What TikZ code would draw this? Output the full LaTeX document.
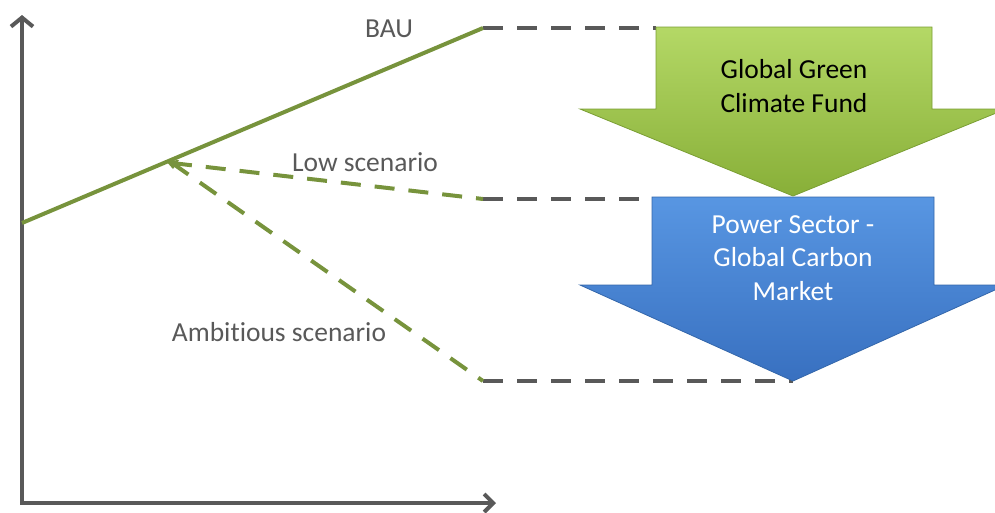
\documentclass[tikz,border=0pt]{standalone}
\usepackage{fontspec}
\setmainfont[Ligatures={NoCommon,NoRequired,NoContextual}]{Carlito}
\usetikzlibrary{arrows.meta}
\definecolor{axisgray}{HTML}{595959}
\definecolor{olive}{HTML}{77933C}
\definecolor{greenTop}{HTML}{B4D866}
\definecolor{greenBot}{HTML}{88AF38}
\definecolor{greenEdge}{HTML}{7A9E33}
\definecolor{blueTop}{HTML}{5896E2}
\definecolor{blueBot}{HTML}{3870C0}
\definecolor{blueEdge}{HTML}{3366AA}
\tikzset{
  axisline/.style={draw=axisgray, line width=4pt, line join=miter},
  bauline/.style={draw=olive, line width=4pt},
  scenline/.style={draw=olive, line width=4pt, dash pattern=on 20pt off 14pt},
  guide/.style={draw=axisgray, line width=4pt, dash pattern=on 20pt off 14pt},
  lbl/.style={text=axisgray, font=\fontsize{27.5}{33.5}\selectfont, inner sep=0pt},
  boxtext/.style={font=\fontsize{27.5}{33.5}\selectfont, align=center, inner sep=0pt},
  greenarrow/.style={top color=greenTop, bottom color=greenBot, draw=greenEdge, line width=0.8pt, line join=miter},
  bluearrow/.style={top color=blueTop, bottom color=blueBot, draw=blueEdge, line width=0.8pt, line join=miter}
}
\begin{document}
\begin{tikzpicture}[x=1pt,y=-1pt]
\useasboundingbox (0,0) rectangle (995,512);
\clip (0,0) rectangle (995,512);
% coordinates
\coordinate (ytop) at (22,15);
\coordinate (origin) at (22,503);
\coordinate (xend) at (496,503);
\coordinate (bauStart) at (22,223);
\coordinate (bauEnd) at (483,28);
\coordinate (branch) at (172,163);
\coordinate (lowEnd) at (483,199);
\coordinate (ambEnd) at (483,381);
\coordinate (greenShaft) at (656,28);
\coordinate (blueShaft) at (652,199);
\coordinate (blueTip) at (793,381);
% axes
\draw[axisline, {Straight Barb[length=9pt,width=22pt]}-{Straight Barb[length=9pt,width=18pt]}] (ytop) -- (origin) -- (xend);
% guide lines
\draw[guide] (bauEnd) -- (greenShaft);
\draw[guide] (lowEnd) -- (blueShaft);
\draw[guide] (ambEnd) -- (blueTip);
% scenario lines
\draw[bauline] (bauStart) -- (bauEnd);
\draw[scenline] (branch) -- (lowEnd);
\draw[scenline] (branch) -- (ambEnd);
\fill[olive] (166,161) -- (179,160) -- (173,169) -- cycle;
% labels
\node[lbl, anchor=base] (bau) at (389,37) {BAU};
\node[lbl, anchor=base] (low) at (365,171) {Low scenario};
\node[lbl, anchor=base] (amb) at (279,341) {Ambitious scenario};
% block arrows
\path[bluearrow] (652,197) -- (934,197) -- (934,285) -- (1006,285) -- (793,381) -- (580,285) -- (652,285) -- cycle;
\path[greenarrow] (656,27) -- (932,27) -- (932,109) -- (1006,109) -- (793,196) -- (580,109) -- (656,109) -- cycle;
\node[boxtext, text=black] (ggcf) at (794,86) {Global Green\\Climate Fund};
\node[boxtext, text=white] (psgcm) at (793,258) {Power Sector -\\Global Carbon\\Market};
\end{tikzpicture}
\end{document}
